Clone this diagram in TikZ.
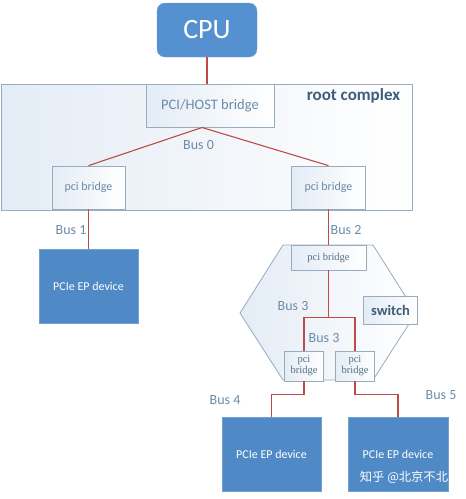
\documentclass[tikz,border=0pt]{standalone}
\usepackage{fontspec}
\setmainfont{Carlito}
\newfontfamily\serifb{Liberation Serif}
\newfontfamily\cjk{Noto Sans CJK SC}
\usetikzlibrary{calc}
\definecolor{epblue}{HTML}{4F89C6}
\definecolor{cpublue}{HTML}{5591D0}
\definecolor{busred}{HTML}{BE4B48}
\definecolor{boxline}{HTML}{97ACBF}
\definecolor{txtblue}{HTML}{6A8CAA}
\definecolor{darkslate}{HTML}{3F5D79}
\definecolor{paleblue}{HTML}{E4ECF5}
\tikzset{
  box/.style={draw=boxline, line width=0.8pt, left color=paleblue, right color=white, inner sep=0pt, text=txtblue},
  epbox/.style={draw=epblue!80!white, line width=0.6pt, fill=epblue, text=white, minimum width=99pt, minimum height=74pt, font=\fontsize{12}{14}\selectfont, inner sep=0pt},
  bus/.style={draw=busred, line width=1.1pt},
  buslbl/.style={text=txtblue, font=\fontsize{14}{16}\selectfont, inner sep=0pt},
  sansbridge/.style={box, minimum width=73pt, minimum height=43pt, font=\fontsize{12}{14}\selectfont},
  serifbridge/.style={box, font=\serifb\fontsize{10.5}{11}\selectfont, align=center, text=txtblue!80!black},
}
\begin{document}
\begin{tikzpicture}[x=1pt,y=-1pt]
\useasboundingbox (0,0) rectangle (466,499);
\fill[white] (0,0) rectangle (466,499);
% root complex
\node[box, minimum width=411pt, minimum height=126pt] (rc) at (206.5,147) {};
\node[font=\bfseries\fontsize{17}{19}\selectfont, text=darkslate, inner sep=0pt] (rcl) at (353.5,96) {root complex};
% CPU
\node[fill=cpublue, draw=cpublue!85!white, rounded corners=8pt, minimum width=100pt, minimum height=54pt, text=white, font=\fontsize{28}{30}\selectfont, inner sep=0pt] (cpu) at (207,30) {CPU};
% host bridge
\node[box, minimum width=128pt, minimum height=43pt, font=\fontsize{14.5}{16}\selectfont] (host) at (210,105.5) {PCI/HOST bridge};
\coordinate (hb) at (202,127.5);
\node[sansbridge] (lb1) at (88.5,187.5) {pci bridge};
\node[sansbridge, minimum width=74pt] (lb2) at (328.5,187.5) {pci bridge};
\draw[bus] (cpu.south) -- (cpu.south |- host.north);
\draw[bus] (hb) -- (lb1.north);
\draw[bus] (hb) -- (lb2.north);
\node[buslbl] (b0) at (198.5,145) {Bus 0};
% left device
\node[epbox] (ep1) at (88.5,286) {PCIe EP device};
\draw[bus] (lb1.south) -- (ep1.north);
\node[buslbl] (b1) at (71,230) {Bus 1};
% switch hexagon
\path[draw=boxline, line width=0.8pt, left color=paleblue, right color=white]
  (283,245) -- (373,245) -- (416,313) -- (373,380) -- (283,380) -- (240,313) -- cycle;
\node[serifbridge, minimum width=75pt, minimum height=25pt] (sb) at (328.5,257.5) {pci bridge};
\node[box, minimum width=54pt, minimum height=27.5pt, font=\bfseries\fontsize{14.5}{16}\selectfont, text=darkslate] (sw) at (390.5,310.5) {switch};
\node[serifbridge, minimum width=39pt, minimum height=30pt] (sbl) at (304,366) {pci\\bridge};
\node[serifbridge, minimum width=39pt, minimum height=30pt] (sbr) at (355,366) {pci\\bridge};
\draw[bus] (lb2.south) -- (sb.north);
\node[buslbl] (b2) at (346,230) {Bus 2};
\draw[bus] (sb.south) -- ++(0,47) coordinate (j);
\draw[bus] (sbl.north) |- (j) -| (sbr.north);
\node[buslbl] (b3a) at (293,306) {Bus 3};
\node[buslbl] (b3b) at (324,338) {Bus 3};
% bottom devices
\node[epbox] (ep2) at (271.5,454) {PCIe EP device};
\node[epbox, minimum width=100pt] (ep3) at (398,454) {PCIe EP device};
\draw[bus] (sbl.south) -- ++(0,13) -| (ep2.north);
\draw[bus] (sbr.south) -- ++(0,13) -| (ep3.north);
\node[buslbl] (b4) at (225,400) {Bus 4};
\node[buslbl] (b5) at (441,395) {Bus 5};
% watermark
\node[text=white, font=\cjk\fontsize{12.3}{14}\selectfont, inner sep=0pt] (wm) at (404,477) {知乎 @北京不北};
\end{tikzpicture}
\end{document}
